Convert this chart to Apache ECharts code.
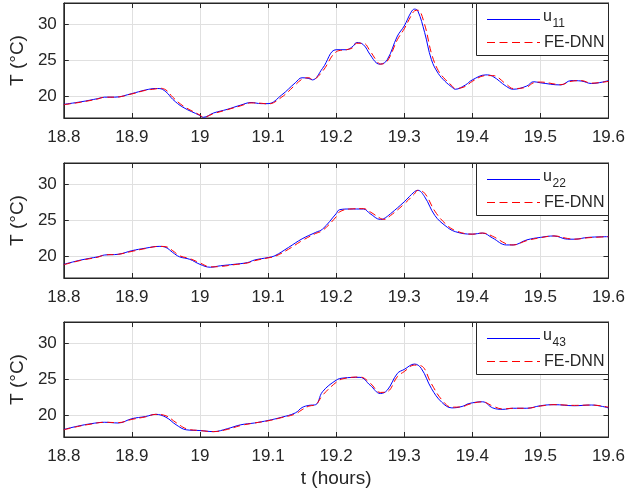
<!DOCTYPE html>
<html>
<head>
<meta charset="utf-8">
<script src="https://cdn.jsdelivr.net/npm/echarts@6/dist/echarts.min.js"></script>
<style>html,body{margin:0;padding:0;background:#fff}#c{width:628px;height:495px}</style>
</head>
<body>
<div id="c"></div>
<script>
// ---- data ----
var t1 = [18.8,18.825,18.85,18.86,18.875,18.9,18.92,18.935,18.94,18.95,18.96,18.975,19.0,19.005,19.02,19.04,19.06,19.075,19.09,19.1,19.12,19.14,19.15,19.16,19.165,19.18,19.2,19.215,19.225,19.23,19.24,19.25,19.26,19.265,19.275,19.29,19.3,19.31,19.315,19.32,19.33,19.34,19.35,19.36,19.37,19.375,19.39,19.4,19.42,19.43,19.45,19.46,19.48,19.49,19.5,19.53,19.545,19.56,19.575,19.6];
var u11 = [18.9,19.25,19.7,19.9,19.9,20.4,20.9,21.1,21.1,20.65,19.6,18.5,17.35,17.1,17.7,18.2,18.8,19.15,19.0,19.0,20.2,21.9,22.6,22.5,22.3,23.9,26.5,26.5,27.0,27.5,27.2,25.8,24.6,24.5,25.1,28.4,29.8,31.7,32.15,31.9,28.9,25.1,23.2,22.1,21.3,21.0,21.6,22.3,23.0,22.8,21.4,21.0,21.45,22.05,21.9,21.6,22.2,22.15,21.8,22.2];
var fe11 = [18.85,19.2,19.65,19.9,19.9,20.35,20.85,21.05,21.15,20.9,19.9,18.7,17.4,17.1,17.6,18.15,18.7,19.1,19.05,18.95,19.9,21.6,22.4,22.6,22.35,23.5,26.2,26.5,26.8,27.4,27.4,26.3,24.9,24.5,24.9,27.9,29.4,31.2,31.9,32.0,30.0,26.0,23.6,22.4,21.5,21.1,21.4,22.1,22.9,22.9,21.7,21.1,21.3,21.9,22.0,21.65,22.1,22.2,21.85,22.1];

var t2 = [18.8,18.825,18.85,18.86,18.88,18.9,18.92,18.94,18.95,18.96,18.97,18.985,19.0,19.015,19.03,19.05,19.07,19.08,19.1,19.11,19.13,19.15,19.17,19.18,19.2,19.205,19.22,19.24,19.25,19.265,19.27,19.28,19.3,19.315,19.32,19.33,19.345,19.36,19.375,19.4,19.415,19.43,19.45,19.46,19.48,19.5,19.52,19.54,19.55,19.57,19.6];
var u22 = [18.9,19.5,19.95,20.2,20.3,20.8,21.15,21.4,21.25,20.55,19.95,19.6,18.9,18.5,18.7,18.9,19.15,19.5,19.85,20.1,21.25,22.45,23.35,23.8,25.95,26.5,26.6,26.6,25.95,25.15,25.25,25.95,27.6,29.0,29.2,28.3,25.7,24.3,23.45,23.1,23.25,22.55,21.6,21.6,22.3,22.65,22.85,22.4,22.4,22.65,22.75];
var fe22 = [18.85,19.45,19.9,20.2,20.3,20.7,21.1,21.4,21.35,20.8,20.1,19.7,19.1,18.55,18.6,18.85,19.1,19.4,19.8,20.0,21.0,22.2,23.2,23.6,25.5,26.2,26.6,26.65,26.2,25.3,25.15,25.7,27.3,28.7,29.2,28.8,26.3,24.6,23.6,23.1,23.25,22.8,21.75,21.6,22.2,22.6,22.85,22.5,22.4,22.6,22.75];

var t3 = [18.8,18.82,18.84,18.86,18.88,18.9,18.92,18.935,18.95,18.965,18.98,19.0,19.02,19.04,19.06,19.08,19.1,19.12,19.14,19.15,19.16,19.17,19.18,19.2,19.21,19.235,19.25,19.265,19.275,19.29,19.3,19.315,19.325,19.34,19.355,19.37,19.385,19.395,19.415,19.43,19.445,19.46,19.48,19.5,19.52,19.55,19.575,19.6];
var u43 = [18.05,18.5,18.85,19.05,18.95,19.55,19.85,20.15,19.75,18.7,18.0,17.9,17.75,18.15,18.7,18.95,19.3,19.75,20.35,21.1,21.4,21.5,23.3,24.9,25.2,25.3,24.2,23.05,23.5,25.85,26.4,27.15,26.55,23.75,21.85,21.05,21.25,21.65,21.9,21.05,20.85,21.0,21.0,21.35,21.5,21.35,21.45,21.05];
var fe43 = [18.0,18.45,18.8,19.05,19.0,19.45,19.8,20.15,19.95,19.0,18.15,17.9,17.75,18.05,18.6,18.95,19.25,19.7,20.2,20.8,21.3,21.5,22.8,24.6,25.1,25.35,24.5,23.2,23.3,25.4,26.1,27.0,26.9,24.4,22.2,21.15,21.2,21.55,21.9,21.3,20.9,21.0,21.0,21.3,21.5,21.4,21.45,21.15];

var yTicks = [20, 25, 30];
var seriesNames = ['u11','u22','u43'];
var subs = ['11','22','43'];
var modelName = 'FE-DNN';
var xLabel = 't (hours)';
var yLabel = 'T (°C)';

// ---- chart ----
(function(){
var FONT = 'Liberation Sans, Arial, Helvetica, sans-serif';
var TXT = '#262626';
var GRIDC = '#e0e0e0';
var BLUE = '#0000ff', RED = '#ff0000', DASH = [7, 4];
var tops = [3, 163, 322];
var H = 115;
function pairs(t, y){ return t.map(function(v,i){ return [v, y[i]]; }); }
var blues = [pairs(t1,u11), pairs(t2,u22), pairs(t3,u43)];
var reds = [pairs(t1,fe11), pairs(t2,fe22), pairs(t3,fe43)];

var grids = [], xAxes = [], yAxes = [], series = [], graphics = [];
function tickStyle(){ return {show: true, inside: true, length: 5, lineStyle: {color: TXT}}; }
for (var i = 0; i < 3; i++) {
  var tp = tops[i];
  grids.push({left: 59, right: 19, top: tp, height: H, show: true, borderColor: TXT, borderWidth: 1, backgroundColor: '#fff'});
  var xi = xAxes.length, yi = yAxes.length;
  xAxes.push({
    type: 'value', gridIndex: i, min: 18.8, max: 19.6, interval: 0.1, position: 'bottom',
    name: i === 2 ? xLabel : '', nameLocation: 'middle', nameGap: 32,
    nameTextStyle: {fontFamily: FONT, fontSize: 19, color: TXT},
    axisLine: {show: true, lineStyle: {color: TXT}},
    axisTick: tickStyle(),
    axisLabel: {fontFamily: FONT, fontSize: 17, color: TXT, margin: 11,
      formatter: function(v){ return String(parseFloat(v.toFixed(2))); }},
    splitLine: {show: true, lineStyle: {color: GRIDC, width: 1}}
  });
  xAxes.push({
    type: 'value', gridIndex: i, min: 18.8, max: 19.6, interval: 0.1, position: 'top',
    axisLine: {show: true, lineStyle: {color: TXT}}, axisTick: tickStyle(),
    axisLabel: {show: false}, splitLine: {show: false}
  });
  yAxes.push({
    type: 'value', gridIndex: i, min: 17, max: 33, position: 'left',
    name: yLabel, nameLocation: 'middle', nameGap: 32, nameRotate: 90,
    nameTextStyle: {fontFamily: FONT, fontSize: 19, color: TXT},
    axisLine: {show: true, lineStyle: {color: TXT}},
    axisTick: {show: true, inside: true, length: 5, lineStyle: {color: TXT}, customValues: yTicks},
    axisLabel: {fontFamily: FONT, fontSize: 17, color: TXT, margin: 7, customValues: yTicks},
    splitLine: {show: true, lineStyle: {color: GRIDC, width: 1}, customValues: yTicks}
  });
  yAxes.push({
    type: 'value', gridIndex: i, min: 17, max: 33, position: 'right',
    axisLine: {show: true, lineStyle: {color: TXT}},
    axisTick: {show: true, inside: true, length: 5, lineStyle: {color: TXT}, customValues: yTicks},
    axisLabel: {show: false}, splitLine: {show: false}
  });
  series.push({
    name: seriesNames[i], type: 'line', xAxisIndex: xi, yAxisIndex: yi, data: blues[i],
    smooth: 0.4, symbol: 'none', lineStyle: {color: BLUE, width: 1}, itemStyle: {color: BLUE}
  });
  series.push({
    name: modelName, type: 'line', xAxisIndex: xi, yAxisIndex: yi, data: reds[i],
    smooth: 0.4, symbol: 'none', lineStyle: {color: RED, width: 1, type: DASH}, itemStyle: {color: RED}
  });
  // legend box (layout only)
  graphics.push({type: 'rect', z: 100, shape: {x: 476.5, y: tp + 0.5, width: 132, height: 52},
    style: {fill: '#fff', stroke: TXT, lineWidth: 1}});
  graphics.push({type: 'line', z: 101, shape: {x1: 487, y1: tp + 16.5, x2: 540, y2: tp + 16.5},
    style: {stroke: BLUE, lineWidth: 1}});
  graphics.push({type: 'line', z: 101, shape: {x1: 487, y1: tp + 39.5, x2: 540, y2: tp + 39.5},
    style: {stroke: RED, lineWidth: 1, lineDash: [8, 4.5]}});
  graphics.push({type: 'text', z: 101, x: 543, y: tp + 14,
    style: {text: 'u', fill: TXT, fontFamily: FONT, fontSize: 16, align: 'left', verticalAlign: 'middle'}});
  graphics.push({type: 'text', z: 101, x: 552.5, y: tp + 21,
    style: {text: subs[i], fill: TXT, fontFamily: FONT, fontSize: 12, align: 'left', verticalAlign: 'middle'}});
  graphics.push({type: 'text', z: 101, x: 544, y: tp + 39.5,
    style: {text: modelName, fill: TXT, fontFamily: FONT, fontSize: 16, align: 'left', verticalAlign: 'middle'}});
}

var chart = echarts.init(document.getElementById('c'), null, {renderer: 'canvas'});
chart.setOption({
  animation: false,
  backgroundColor: '#fff',
  grid: grids, xAxis: xAxes, yAxis: yAxes, series: series, graphic: graphics
});
})();
</script>
</body>
</html>
